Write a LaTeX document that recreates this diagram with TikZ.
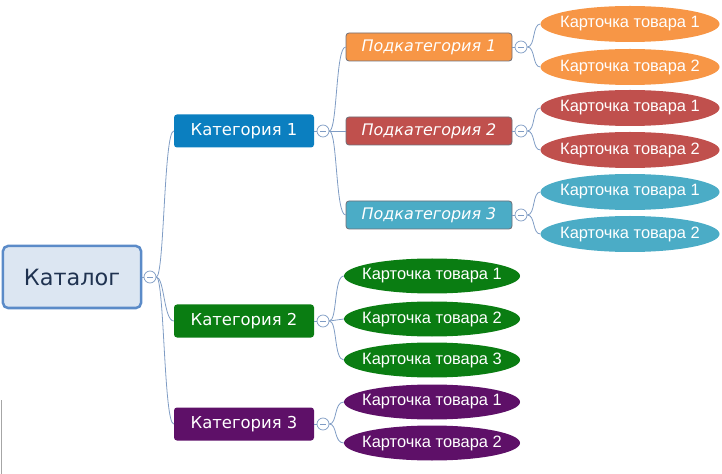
\documentclass[tikz,border=0pt]{standalone}
\usepackage{fontspec}
\setmainfont{DejaVu Sans}
\newfontfamily\cardFont{Liberation Sans}
\usetikzlibrary{shapes.geometric}
\definecolor{rootFillColor}{HTML}{DCE6F2}
\definecolor{rootBorderColor}{HTML}{5B8BC8}
\definecolor{rootTextColor}{HTML}{1F3250}
\definecolor{catColorA}{HTML}{0B7FC0}
\definecolor{catColorB}{HTML}{0A7D12}
\definecolor{catColorC}{HTML}{5E1068}
\definecolor{subColorA}{HTML}{F79646}
\definecolor{subColorB}{HTML}{C0504D}
\definecolor{subColorC}{HTML}{4BACC6}
\definecolor{subBorderColor}{HTML}{6F6F78}
\definecolor{linkColor}{HTML}{7F9CC4}
\def\textRoot{Каталог}
\def\textCard{Карточка товара}
\tikzset{
  rootBox/.style={draw=rootBorderColor, line width=2.5bp, fill=rootFillColor,
    rounded corners=5bp, minimum width=138bp, minimum height=62bp, inner sep=0pt,
    text=rootTextColor, font=\fontsize{22.5}{22.5}\selectfont},
  catBox/.style={fill=#1, rounded corners=3bp, minimum width=140bp,
    minimum height=33bp, inner sep=0pt, text=white,
    font=\fontsize{16.5}{16.5}\selectfont},
  subBox/.style={fill=#1, draw=subBorderColor, line width=.8bp, rounded corners=3bp,
    minimum width=166bp, minimum height=28bp, inner sep=0pt, text=white,
    font=\fontsize{16}{16}\selectfont\itshape},
  cardOval/.style={ellipse, fill=#1, minimum width=179bp, minimum height=36bp,
    inner xsep=-8bp, inner ysep=0pt, text=white,
    font=\cardFont\fontsize{16.5}{16.5}\selectfont},
  toggle/.style={circle, draw=linkColor, fill=white, line width=.7bp,
    minimum size=12bp, inner sep=0pt,
    path picture={\draw[linkColor, line width=.7bp]
      ([xshift=3bp]path picture bounding box.west) --
      ([xshift=-3bp]path picture bounding box.east);}},
  link/.style={draw=linkColor, line width=.8bp}
}

\begin{document}
\begin{tikzpicture}[x=1bp,y=-1bp]
\useasboundingbox (0, 0) rectangle (722, 474);

% edge at the left
\draw[color=gray!70, line width=1bp] (1, 400) -- (1, 474);

% root
\node[rootBox] (catalog) at (72, 277) {\textRoot};
\node[toggle] (tgRoot) at (150, 277) {};

% categories
\node[catBox=catColorA] (catA) at (244, 131) {Категория 1};
\node[catBox=catColorB] (catB) at (244, 321) {Категория 2};
\node[catBox=catColorC] (catC) at (244, 424) {Категория 3};
\node[toggle] (tgCatA) at (323, 131) {};
\node[toggle] (tgCatB) at (323, 321) {};
\node[toggle] (tgCatC) at (323, 424) {};

% subcategories
\node[subBox=subColorA] (subA) at (429, 47) {Подкатегория 1};
\node[subBox=subColorB] (subB) at (429, 131) {Подкатегория 2};
\node[subBox=subColorC] (subC) at (429, 215) {Подкатегория 3};
\node[toggle] (tgSubA) at (521, 47) {};
\node[toggle] (tgSubB) at (521, 131) {};
\node[toggle] (tgSubC) at (521, 215) {};

% cards
\node[cardOval=subColorA] (cardAA) at (630, 24) {\textCard\ 1};
\node[cardOval=subColorA] (cardAB) at (630, 67) {\textCard\ 2};
\node[cardOval=subColorB] (cardBA) at (630, 108) {\textCard\ 1};
\node[cardOval=subColorB] (cardBB) at (630, 150) {\textCard\ 2};
\node[cardOval=subColorC] (cardCA) at (630, 192) {\textCard\ 1};
\node[cardOval=subColorC] (cardCB) at (630, 234) {\textCard\ 2};
\node[cardOval=catColorB, minimum width=176bp, minimum height=35bp] (cardDA) at (432, 276) {\textCard\ 1};
\node[cardOval=catColorB, minimum width=176bp, minimum height=35bp] (cardDB) at (432, 319) {\textCard\ 2};
\node[cardOval=catColorB, minimum width=176bp, minimum height=35bp] (cardDC) at (432, 360) {\textCard\ 3};
\node[cardOval=catColorC, minimum width=176bp, minimum height=35bp] (cardEA) at (432, 402) {\textCard\ 1};
\node[cardOval=catColorC, minimum width=176bp, minimum height=35bp] (cardEB) at (432, 443) {\textCard\ 2};

% link layer
\begin{scope}
\draw[link] (catalog.east) -- (tgRoot.west);
\draw[link] (tgRoot.east) .. controls +(8, 0) and +(-10, 0) .. (catA.west);
\draw[link] (tgRoot.east) .. controls +(8, 0) and +(-10, 0) .. (catB.west);
\draw[link] (tgRoot.east) .. controls +(8, 0) and +(-10, 0) .. (catC.west);

\draw[link] (catA.east) -- (tgCatA.west);
\draw[link] (catB.east) -- (tgCatB.west);
\draw[link] (catC.east) -- (tgCatC.west);

\draw[link] (tgCatA.east) .. controls +(8, 0) and +(-10, 0) .. (subA.west);
\draw[link] (tgCatA.east) -- (subB.west);
\draw[link] (tgCatA.east) .. controls +(8, 0) and +(-10, 0) .. (subC.west);
\draw[link] (tgCatB.east) .. controls +(8, 0) and +(-10, 0) .. (cardDA.west);
\draw[link] (tgCatB.east) -- (cardDB.west);
\draw[link] (tgCatB.east) .. controls +(8, 0) and +(-10, 0) .. (cardDC.west);
\draw[link] (tgCatC.east) .. controls +(8, 0) and +(-10, 0) .. (cardEA.west);
\draw[link] (tgCatC.east) .. controls +(8, 0) and +(-10, 0) .. (cardEB.west);

\draw[link] (subA.east) -- (tgSubA.west);
\draw[link] (subB.east) -- (tgSubB.west);
\draw[link] (subC.east) -- (tgSubC.west);

\draw[link] (tgSubA.east) .. controls +(8, 0) and +(-8, 0) .. (cardAA.west);
\draw[link] (tgSubA.east) .. controls +(8, 0) and +(-8, 0) .. (cardAB.west);
\draw[link] (tgSubB.east) .. controls +(8, 0) and +(-8, 0) .. (cardBA.west);
\draw[link] (tgSubB.east) .. controls +(8, 0) and +(-8, 0) .. (cardBB.west);
\draw[link] (tgSubC.east) .. controls +(8, 0) and +(-8, 0) .. (cardCA.west);
\draw[link] (tgSubC.east) .. controls +(8, 0) and +(-8, 0) .. (cardCB.west);
\end{scope}
\end{tikzpicture}
\end{document}
